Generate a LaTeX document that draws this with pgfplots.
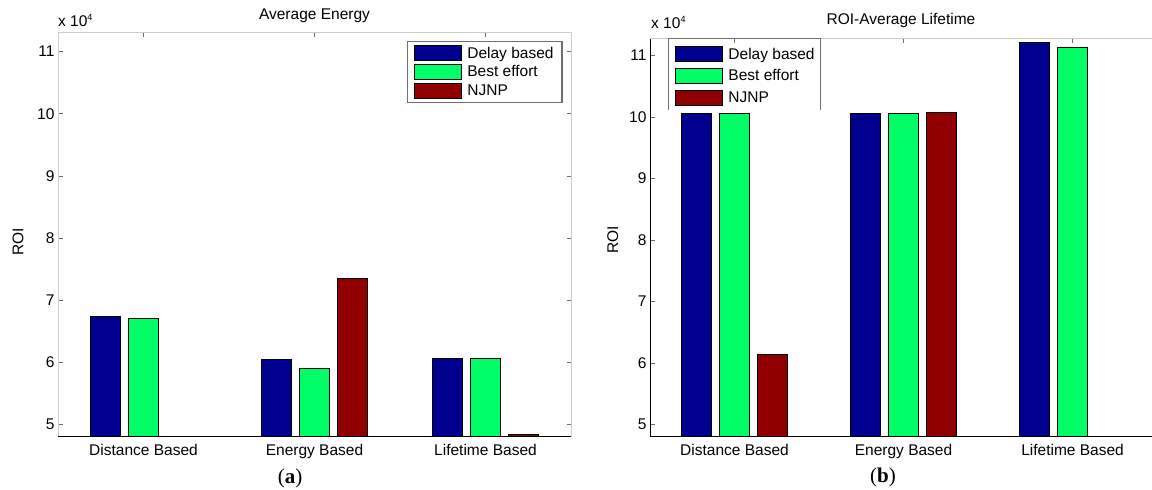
\documentclass[border=0pt]{standalone}
\usepackage{fontspec}
\setmainfont{Liberation Sans}
\newfontfamily\capfont{Liberation Serif}
\usepackage{pgfplots}
\pgfplotsset{compat=1.18}
\definecolor{cDelay}{RGB}{0,0,143}
\definecolor{cBest}{RGB}{0,255,102}
\definecolor{cNJNP}{RGB}{145,0,0}
\definecolor{axgray}{RGB}{205,205,205}
\definecolor{tickgray}{RGB}{110,110,110}
\definecolor{leggray}{RGB}{110,110,110}
\newcommand{\tf}{\fontsize{15.5}{17}\selectfont}
\pgfplotsset{
  roi/.style={
    scale only axis, anchor=south west,
    xmin=-0.5, ymin=4.8,
    xtick={0,1,2},
    xticklabels={Distance Based, Energy Based, Lifetime Based},
    ytick={5,6,7,8,9,10,11},
    xtick pos=right, xticklabel pos=left,
    tick align=inside, major tick length=4.5pt,
    tick style={tickgray, line width=0.8pt},
    axis line style={axgray, line width=1pt},
    ticklabel style={font=\tf},
    xticklabel style={yshift=-4pt},
    /pgf/number format/assume math mode=true,
    clip mode=individual,
    legend cell align=left,
    legend image code/.code={\draw[##1] (0pt,-7.5pt) rectangle (47pt,7.5pt);},
    title style={font=\tf, anchor=base, at={(0.5,1)}},
    ylabel style={font=\tf, anchor=center},
  }
}
\begin{document}
\begin{tikzpicture}[x=1pt,y=1pt]
\path[use as bounding box] (0,0) rectangle (1152,490);
% ---------------- (a) ----------------
\begin{axis}[roi,
  at={(58pt,53pt)}, width=513pt, height=404pt,
  xmax=2.5, ymax=11.3, ytick pos=both,
  title={Average Energy}, title style={yshift=7pt},
  ylabel={ROI}, ylabel style={at={(axis description cs:-0.078,0.483)}},
  legend style={at={(0.984,0.980)}, anchor=north east, draw=leggray, line width=1.3pt,
    fill=white, font=\tf, inner xsep=7pt, inner ysep=3.5pt, row sep=3pt,
    nodes={inner sep=1.6pt},
    /tikz/every odd column/.append style={column sep=4pt}},
]
\addplot[ybar, bar width=0.175, bar shift=-0.222, fill=cDelay, draw=black, line width=0.6pt]
  coordinates {(0,6.74) (1,6.05) (2,6.06)};
\addplot[ybar, bar width=0.175, bar shift=0, fill=cBest, draw=black, line width=0.6pt]
  coordinates {(0,6.71) (1,5.91) (2,6.06)};
\addplot[ybar, bar width=0.175, bar shift=0.222, fill=cNJNP, draw=black, line width=0.6pt]
  coordinates {(1,7.35) (2,4.84)};
\legend{Delay based, Best effort, NJNP}
\draw[black, line width=1pt] (rel axis cs:0,0) -- (rel axis cs:1,0);
\end{axis}
\node[anchor=base west, font=\tf, inner sep=0] at (58,463) {x 10\raisebox{6pt}{\fontsize{9}{9}\selectfont 4}};
\node[font=\capfont\fontsize{21}{23}\selectfont] at (290,12) {(\textbf{a})};
% ---------------- (b) ----------------
\begin{axis}[roi,
  at={(650pt,53pt)}, width=502pt, height=398pt,
  xmax=2.47, ymax=11.27,
  axis x line*=box, axis y line*=left, ytick pos=left,
  title={ROI-Average Lifetime}, title style={yshift=8pt},
  ylabel={ROI}, ylabel style={at={(axis description cs:-0.074,0.495)}},
  legend style={at={(0.036,0.99)}, anchor=north west, draw=none,
    fill=none, font=\tf, inner xsep=7pt, inner ysep=3pt, row sep=6pt,
    nodes={inner sep=1.6pt},
    /tikz/every odd column/.append style={column sep=4pt}},
]
\addplot[ybar, bar width=0.18, bar shift=-0.225, fill=cDelay, draw=black, line width=0.6pt]
  coordinates {(0,10.06) (1,10.06) (2,11.21)};
\addplot[ybar, bar width=0.18, bar shift=0, fill=cBest, draw=black, line width=0.6pt]
  coordinates {(0,10.06) (1,10.06) (2,11.14)};
\addplot[ybar, bar width=0.18, bar shift=0.225, fill=cNJNP, draw=black, line width=0.6pt]
  coordinates {(0,6.14) (1,10.08)};
\legend{Delay based, Best effort, NJNP}
\draw[black, line width=1pt] (rel axis cs:0,0) -- (rel axis cs:1,0);
\draw[black, line width=1pt] (rel axis cs:0,0) -- (rel axis cs:0,1);
\draw[leggray, line width=1pt] (rel axis cs:0.036,0.8216) -- (rel axis cs:0.036,1)
  -- (rel axis cs:0.3406,1) -- (rel axis cs:0.3406,0.8216);
\end{axis}
\node[anchor=base west, font=\tf, inner sep=0] at (651,461) {x 10\raisebox{6pt}{\fontsize{9}{9}\selectfont 4}};
\node[font=\capfont\fontsize{21}{23}\selectfont] at (883,13) {(\textbf{b})};
\end{tikzpicture}
\end{document}
